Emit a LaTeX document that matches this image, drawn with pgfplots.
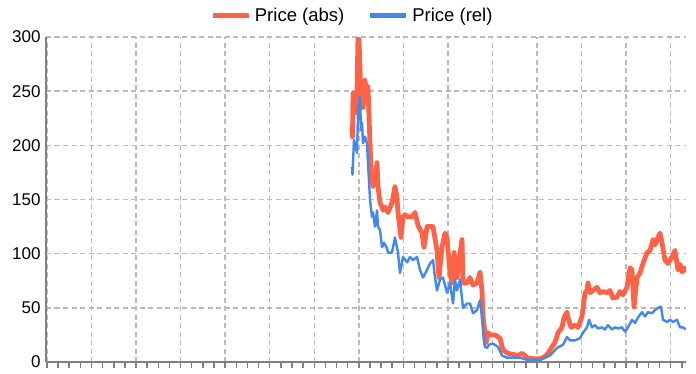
\documentclass[border=0pt]{standalone}
\usepackage{fontspec}
\setmainfont{Liberation Sans}
\usepackage{pgfplots}
\pgfplotsset{compat=1.18}
\definecolor{cred}{HTML}{FF6347}
\definecolor{cblue}{HTML}{4189F0}
\definecolor{cgrid}{HTML}{BBBBBB}
\definecolor{caxis}{HTML}{808080}
\begin{document}
\begin{tikzpicture}
\begin{axis}[
  at={(0pt,0pt)}, anchor=south west,
  scale only axis, width=640pt, height=325pt,
  xmin=46, xmax=686, ymin=0, ymax=300,
  axis x line*=bottom, axis y line*=left,
  axis line style={caxis, line width=1.8pt},
  xtick={46.95,91.5,...,671},
  minor xtick={46.95,58.0875,...,686},
  xticklabels={},
  ytick={0,50,...,300},
  tick align=outside,
  major tick length=6pt, minor tick length=6pt,
  every tick/.style={caxis, line width=1.5pt},
  ytick style={draw=none},
  grid=major,
  major grid style={cgrid, line width=1.4pt, dash pattern=on 5pt off 3.5pt},
  /pgf/number format/assume math mode=true,
  yticklabel style={font=\fontsize{17}{17}\selectfont, xshift=4pt},
  legend style={at={(axis description cs:0.480,1.066)}, anchor=center,
    draw=none, fill=none, font=\fontsize{18.5}{18.5}\selectfont,
    legend columns=2, column sep=0pt, inner sep=0pt,
    nodes={inner xsep=3.5pt},
    /tikz/every even column/.append style={column sep=20pt}},
  legend cell align=left,
]
\addplot[cred, line width=4.8pt, line join=round, legend image code/.code={\draw[cred, line width=5pt] (0pt,0pt) -- (36pt,0pt);}] coordinates {
(352,217)(352.5,208)(353,248)(355,230)(357,248)(358,300)(359,297)(360,272)(361,235)(362,258)
(363,235)(365,260)(367,245)(368,254)(369.5,214)(371,177)(373,162)(375,168)(377,184)(378,162)
(380,147)(382,143)(383,140)(385,143)(388,138)(392,147)(395,162)(397,152)(398,138)(401,115)
(403,134)(405,136)(408,134)(412,134)(415,138)(418,126)(422,119)(424,106)(427,125)(430,125)
(433,125)(437,103)(439,78)(442,106)(445,119)(447,115)(450,82)(452,73)(454,101)(457,78)
(459,94)(462,113)(463,73)(467,73)(470,78)(473,71)(477,73)(480,83)(482,66)(483,42)
(486,18)(488,27)(490,25)(495,25)(500,22)(503,11)(508,8)(513,7)(518,6)(522,8)
(525,6)(527,4)(533,3)(540,3)(545,5)(548,8)(552,14)(555,18)(558,27)(562,32)
(564,41)(567,46)(568,41)(571,32)(575,34)(578,32)(582,42)(585,64)(587,66)(588,73)
(590,64)(593,66)(597,69)(600,64)(603,65)(607,64)(610,66)(613,59)(617,60)(620,65)
(623,62)(627,69)(630,87)(632,85)(634,51)(637,78)(640,82)(643,91)(647,101)(650,103)
(653,113)(655,108)(658,115)(660,119)(662,110)(665,94)(668,91)(672,97)(675,103)(678,85)
(680,90)(682,83)(684,87)(686,83)
};
\addlegendentry{Price (abs)}
\addplot[cblue, line width=2.4pt, line join=round, legend image code/.code={\draw[cblue, line width=5pt] (0pt,0pt) -- (36pt,0pt);}] coordinates {
(352,180)(352.5,173)(354,205)(357,193)(358,230)(360,245)(361,214)(362,221)(363,202)(365,208)
(367,202)(368,184)(370,150)(372,134)(373,138)(375,125)(377,140)(378,125)(380,122)(382,106)
(384,110)(387,105)(388,101)(392,101)(395,115)(398,101)(400,82)(403,97)(407,92)(410,97)
(413,94)(417,97)(420,85)(423,78)(427,85)(430,91)(433,94)(435,78)(437,66)(440,76)
(443,78)(447,64)(450,73)(453,54)(455,76)(457,66)(460,76)(463,50)(467,54)(470,54)
(473,45)(477,48)(480,57)(482,42)(484,18)(485,14)(487,13)(489,16)(493,17)(498,14)
(502,6)(507,4)(513,4)(520,4)(527,2)(540,2)(545,4)(550,6)(557,13)(563,16)
(567,23)(570,20)(575,20)(580,22)(583,27)(587,32)(589,39)(592,32)(595,34)(598,31)
(602,32)(605,30)(608,34)(612,30)(615,32)(618,31)(622,32)(625,28)(628,32)(632,39)
(635,36)(638,41)(642,46)(645,42)(648,46)(652,45)(655,48)(658,50)(661,51)(663,39)
(667,37)(670,39)(673,37)(677,39)(680,32)(683,32)(686,30)
};
\addlegendentry{Price (rel)}
\end{axis}
\pgfresetboundingbox
\path[use as bounding box] (-46pt,-11pt) rectangle (650pt,362pt);
\end{tikzpicture}
\end{document}
